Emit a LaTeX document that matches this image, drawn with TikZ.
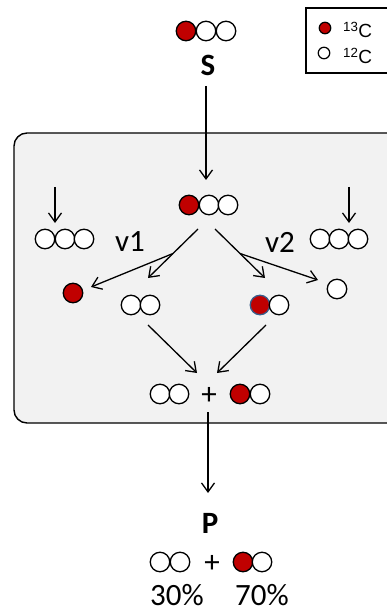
\documentclass[tikz,border=0pt]{standalone}
\usepackage{fontspec}
\setmainfont{Carlito}
\newfontfamily\legendfont{Liberation Sans}
\usetikzlibrary{arrows.meta,calc}
\definecolor{cred}{RGB}{192,0,0}
\definecolor{boxgray}{RGB}{242,242,242}
\definecolor{rimblue}{RGB}{56,93,138}
\tikzset{
  cw/.style={circle, draw=black, fill=white, line width=1.3pt, minimum size=19.5pt, inner sep=0pt},
  cr/.style={cw, fill=cred},
  dot/.style={circle, draw=black, line width=1.2pt, minimum size=11.5pt, inner sep=0pt},
  arr/.style={line width=1.3pt, -{Straight Barb[length=9pt,width=13pt]}},
  lbl/.style={inner sep=0pt, font=\fontsize{31}{31}\selectfont},
}

\begin{document}
\begin{tikzpicture}[x=1pt,y=-1pt]
   \useasboundingbox (0,0) rectangle (387,612);
   % reaction box
   \draw[fill=boxgray, rounded corners=13pt, line width=1.4pt] (14,133) rectangle (400,423);
   % legend
   \draw[line width=1.2pt] (306,8) rectangle (392,73);
   \node[dot, fill=cred] (l13) at (325,28) {};
   \node[dot, fill=white] (l12) at (324,53) {};
   \node[anchor=west, inner sep=0pt, font=\legendfont\fontsize{19}{19}\selectfont] (t13) at (343,30) {\textsuperscript{13}C};
   \node[anchor=west, inner sep=0pt, font=\legendfont\fontsize{19}{19}\selectfont] (t12) at (343,56) {\textsuperscript{12}C};
   % substrate S
   \node[cr] (s1) at (186,31) {};
   \node[cw] (s2) at (206,31) {};
   \node[cw] (s3) at (226,31) {};
   \node[lbl, font=\fontsize{31}{31}\selectfont\bfseries] (S) at (208,65) {S};
   % S inside the cell
   \node[cr] (m1) at (189,205) {};
   \node[cw] (m2) at (209,205) {};
   \node[cw] (m3) at (228,205) {};
   % unlabelled pools
   \node[cw] (u1) at (45,239) {};
   \node[cw] (u2) at (65,239) {};
   \node[cw] (u3) at (84,239) {};
   \node[cw] (w1) at (320,239) {};
   \node[cw] (w2) at (339,239) {};
   \node[cw] (w3) at (358,239) {};
   \node[lbl] (v1) at (130,242) {v1};
   \node[lbl] (v2) at (280,242) {v2};
   % cleavage products
   \node[cr] (a1) at (73,293) {};
   \node[cw] (b1) at (131,305) {};
   \node[cw] (b2) at (150,305) {};
   \node[cr, draw=rimblue] (c1) at (260,305) {};
   \node[cw] (c2) at (279,305) {};
   \node[cw] (d1) at (337,289) {};
   % mixed pool
   \node[cw] (e1) at (160,394) {};
   \node[cw] (e2) at (179,394) {};
   \node[lbl] (plusA) at (209,396) {+};
   \node[cr] (f1) at (240,394) {};
   \node[cw] (f2) at (260,394) {};
   % product P
   \node[lbl, font=\fontsize{31}{31}\selectfont\bfseries] (P) at (210,523) {P};
   \node[cw] (g1) at (160,562) {};
   \node[cw] (g2) at (180,562) {};
   \node[lbl] (plusB) at (212,564) {+};
   \node[cr] (h1) at (243,562) {};
   \node[cw] (h2) at (262,562) {};
   \node[lbl] (p30) at (177,595) {30\%};
   \node[lbl] (p70) at (262,595) {70\%};
   % arrow ends
   \coordinate (sOut) at (206,86);
   \coordinate (mIn) at (206,180);
   \coordinate (uTop) at (55,187);
   \coordinate (uIn) at (55,223);
   \coordinate (wTop) at (349,187);
   \coordinate (wIn) at (349,223);
   \coordinate (v1Out) at (198,229);
   \coordinate (bIn) at (148,278);
   \coordinate (aIn) at (91,287);
   \coordinate (v2Out) at (215,229);
   \coordinate (cIn) at (265,278);
   \coordinate (dIn) at (318,280);
   \coordinate (bOut) at (148,325);
   \coordinate (cOut) at (266,325);
   \coordinate (eIn) at (197,373);
   \coordinate (fIn) at (217,373);
   \coordinate (mixOut) at (208,412);
   \coordinate (pIn) at (208,493);
   % arrows
   \draw[arr] (sOut) -- (mIn);
   \draw[arr] (uTop) -- (uIn);
   \draw[arr] (wTop) -- (wIn);
   \draw[arr] (v1Out) -- (bIn);
   \draw[arr] ($(v1Out)!0.5!(bIn)$) -- (aIn);
   \draw[arr] (v2Out) -- (cIn);
   \draw[arr] ($(v2Out)!0.5!(cIn)$) -- (dIn);
   \draw[arr] (bOut) -- (eIn);
   \draw[arr] (cOut) -- (fIn);
   \draw[arr] (mixOut) -- (pIn);
\end{tikzpicture}
\end{document}
